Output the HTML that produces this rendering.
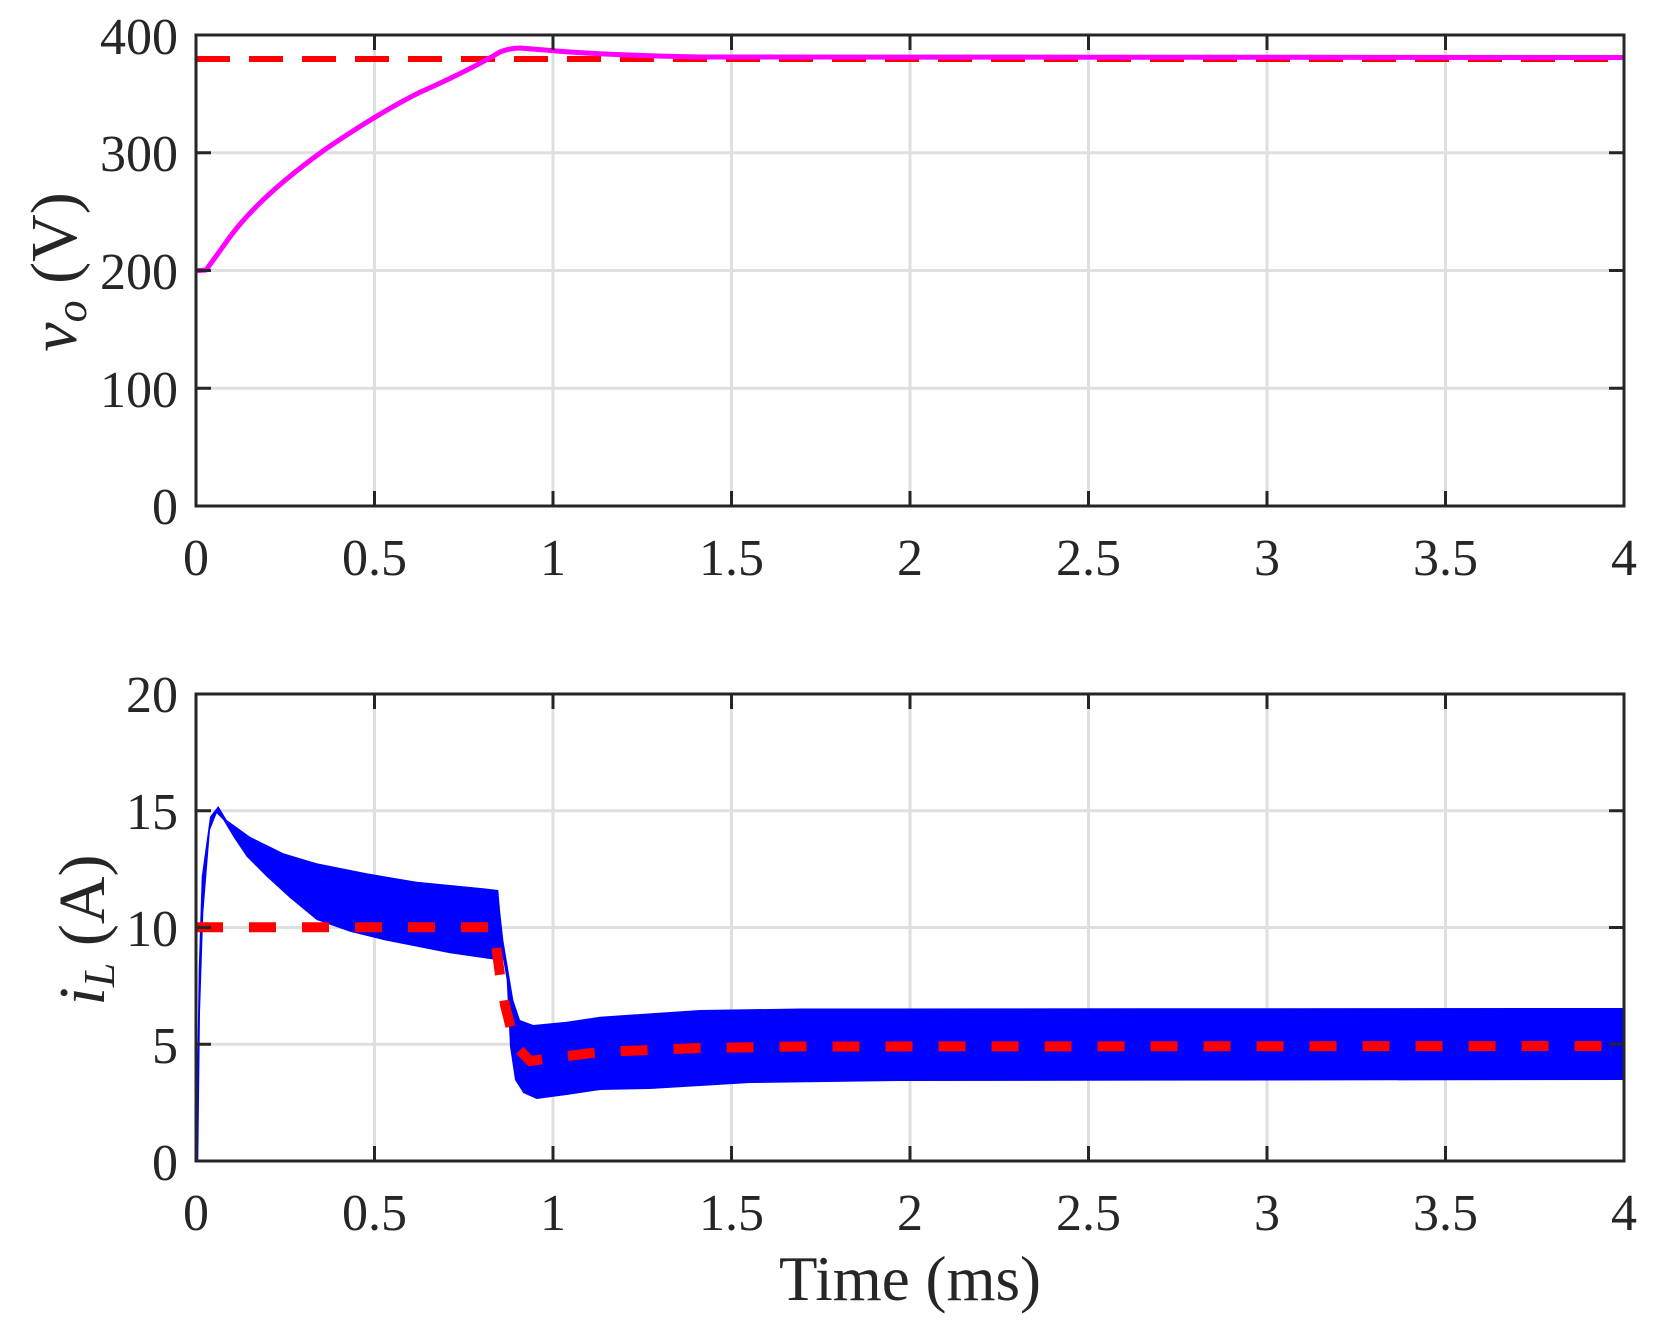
<!DOCTYPE html>
<html><head><meta charset="utf-8"><style>
html,body{margin:0;padding:0;background:#fff;}
svg{display:block;}
text{font-family:"Liberation Serif",serif;fill:#262626;}
</style></head><body>
<svg width="1656" height="1325" viewBox="0 0 1656 1325" xmlns="http://www.w3.org/2000/svg">
<rect width="1656" height="1325" fill="#fff"/>
<g stroke="#dfdfdf" stroke-width="3">
<line x1="374.5" y1="35" x2="374.5" y2="506"/><line x1="553" y1="35" x2="553" y2="506"/><line x1="731.5" y1="35" x2="731.5" y2="506"/><line x1="910" y1="35" x2="910" y2="506"/><line x1="1088.5" y1="35" x2="1088.5" y2="506"/><line x1="1267" y1="35" x2="1267" y2="506"/><line x1="1445.5" y1="35" x2="1445.5" y2="506"/>
<line x1="196" y1="152.8" x2="1624" y2="152.8"/><line x1="196" y1="270.5" x2="1624" y2="270.5"/><line x1="196" y1="388.3" x2="1624" y2="388.3"/>
<line x1="374.5" y1="694" x2="374.5" y2="1161"/><line x1="553" y1="694" x2="553" y2="1161"/><line x1="731.5" y1="694" x2="731.5" y2="1161"/><line x1="910" y1="694" x2="910" y2="1161"/><line x1="1088.5" y1="694" x2="1088.5" y2="1161"/><line x1="1267" y1="694" x2="1267" y2="1161"/><line x1="1445.5" y1="694" x2="1445.5" y2="1161"/>
<line x1="196" y1="810.8" x2="1624" y2="810.8"/><line x1="196" y1="927.5" x2="1624" y2="927.5"/><line x1="196" y1="1044.3" x2="1624" y2="1044.3"/>
</g>
<line x1="196" y1="59" x2="1624" y2="59" stroke="#ff0000" stroke-width="6" stroke-dasharray="34 19"/>
<path fill="none" stroke="#ff00ff" stroke-width="5" stroke-linejoin="round" d="M196.3,270.6 L206,270 Q212,262 229.6,237.3 Q260,196 325.3,149.3 Q380,112 421,91.8 Q470,70 500,52 Q510,48 520,48 L551,50.5 Q600,55 700,57 L1624,57.5"/>
<polygon fill="#0000ff" points="196,1160 198.7,970 201.7,876.7 210,816.7 218.3,806 226.7,820 250,836.7 283.3,853.3 316.7,863.3 366.7,873.3 416.7,881.7 483.3,888.3 498.3,890 500,910 503.3,940 508.3,970 513.3,1000 520,1020 533.3,1025 566.7,1021.7 600,1016.7 700,1010 800,1008.5 1624,1008 1624,1080 900,1081 750,1083 650,1089 600,1090 566.7,1095 536.7,1099 523.3,1093 515,1080 510,1046.7 506.7,980 503.3,960 496.7,960 450,953.3 383.3,940 350,931.7 316.7,920 290,898 266.7,876.7 246.7,856.7 233.3,836.7 223.3,820 216.7,813.3 210,830 203.3,913 200,1013 198.3,1160"/>
<polyline fill="none" stroke="#ff0000" stroke-width="10" stroke-dasharray="27 26" points="196,927.3 493,927.3 496,945 500,975 505,1005 515,1045 530,1061 560,1057 600,1052 700,1048 800,1046.5 1624,1046"/>
<g stroke="#262626" stroke-width="3" fill="none">
<rect x="196" y="35" width="1428" height="471"/>
<rect x="196" y="694" width="1428" height="467"/>
<path d="M374.5 506v-15M553 506v-15M731.5 506v-15M910 506v-15M1088.5 506v-15M1267 506v-15M1445.5 506v-15M374.5 35v15M553 35v15M731.5 35v15M910 35v15M1088.5 35v15M1267 35v15M1445.5 35v15M196 152.8h15M196 270.5h15M196 388.3h15M1624 152.8h-15M1624 270.5h-15M1624 388.3h-15"/>
<path d="M374.5 1161v-15M553 1161v-15M731.5 1161v-15M910 1161v-15M1088.5 1161v-15M1267 1161v-15M1445.5 1161v-15M374.5 694v15M553 694v15M731.5 694v15M910 694v15M1088.5 694v15M1267 694v15M1445.5 694v15M196 810.8h15M196 927.5h15M196 1044.3h15M1624 810.8h-15M1624 927.5h-15M1624 1044.3h-15"/>
</g>
<g font-size="52" text-anchor="end">
<text x="178" y="54">400</text><text x="178" y="171">300</text><text x="178" y="289">200</text><text x="178" y="407">100</text><text x="178" y="524">0</text>
<text x="178" y="712">20</text><text x="178" y="829">15</text><text x="178" y="946">10</text><text x="178" y="1063">5</text><text x="178" y="1180">0</text>
</g>
<g font-size="52" text-anchor="middle">
<text x="196" y="575">0</text><text x="374.5" y="575">0.5</text><text x="553" y="575">1</text><text x="731.5" y="575">1.5</text><text x="910" y="575">2</text><text x="1088.5" y="575">2.5</text><text x="1267" y="575">3</text><text x="1445.5" y="575">3.5</text><text x="1624" y="575">4</text>
<text x="196" y="1230">0</text><text x="374.5" y="1230">0.5</text><text x="553" y="1230">1</text><text x="731.5" y="1230">1.5</text><text x="910" y="1230">2</text><text x="1088.5" y="1230">2.5</text><text x="1267" y="1230">3</text><text x="1445.5" y="1230">3.5</text><text x="1624" y="1230">4</text>
</g>
<text x="910" y="1300" font-size="63" text-anchor="middle">Time (ms)</text>
<text transform="translate(76,272) rotate(-90)" font-size="66" text-anchor="middle"><tspan font-style="italic">v</tspan><tspan font-style="italic" font-size="44" dy="10">o</tspan><tspan dy="-10"> (V)</tspan></text>
<text transform="translate(104,930) rotate(-90)" font-size="66" text-anchor="middle"><tspan font-style="italic">i</tspan><tspan font-style="italic" font-size="44" dy="10">L</tspan><tspan dy="-10"> (A)</tspan></text>
</svg>
</body></html>
